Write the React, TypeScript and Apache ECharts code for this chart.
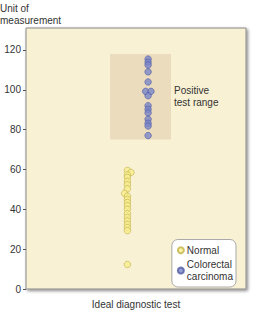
import React, { useEffect, useRef } from "react";
import * as echarts from "echarts";

const yTicks = [0, 20, 40, 60, 80, 100, 120];
const positiveRange = [75, 118];
const positiveRangeX = [38.2, 65.9];
// [x position (jitter), value]
const normalValues: [number, number][] = [
  [46.1, 59.5], [47.7, 58.5], [46.1, 57.3], [46.1, 56], [46.1, 54], [46.1, 52.3],
  [46.1, 50.3], [44.8, 48], [46.1, 46.6], [46.1, 45], [46.1, 43.4], [46.1, 41.8],
  [46.1, 40], [46.1, 37.8], [46.1, 36], [46.1, 34.2], [46.1, 32.4], [46.1, 30.8],
  [46.1, 29.3], [46.1, 12.3],
];
const carcinomaValues: [number, number][] = [
  [55.5, 115.4], [55.5, 113.8], [55.5, 112.4], [55.5, 109], [55.5, 103.9],
  [54.4, 99.2], [56.8, 99.2], [55.5, 97], [55.5, 92], [55.5, 90.2], [55.5, 88.4],
  [55.5, 85.2], [55.5, 83.2], [55.5, 81.8], [55.5, 77],
];

const FONT = "'Liberation Sans', Arial, sans-serif";

export default function App() {
  const ref = useRef<HTMLDivElement>(null);
  useEffect(() => {
    const chart = echarts.init(ref.current!, null, { renderer: "svg" });
    chart.setOption({
      animation: false,
      textStyle: { fontFamily: FONT },
      title: {
        text: "Unit of\nmeasurement",
        left: -5,
        top: -2,
        padding: 5,
        textStyle: { fontSize: 10, fontWeight: "normal", color: "#333", lineHeight: 11.5, fontFamily: FONT },
      },
      grid: {
        left: 26,
        right: 7,
        top: 28,
        bottom: 17,
        show: true,
        backgroundColor: "#f9f1d3",
        borderColor: "#8a8a8a",
        borderWidth: 1,
        shadowColor: "rgba(0,0,0,0.45)",
        shadowBlur: 3,
        shadowOffsetX: 1.5,
        shadowOffsetY: 1.5,
      },
      xAxis: {
        type: "value",
        min: 0,
        max: 100,
        name: "Ideal diagnostic test",
        nameLocation: "middle",
        nameGap: 10,
        nameTextStyle: { fontSize: 10, color: "#333", fontFamily: FONT },
        axisLine: { show: false },
        axisTick: { show: false },
        axisLabel: { show: false },
        splitLine: { show: false },
      },
      yAxis: {
        type: "value",
        min: 0,
        max: 131,
        axisLine: { show: false },
        axisTick: { show: true, length: 3, lineStyle: { color: "#555" }, customValues: yTicks },
        axisLabel: { fontSize: 10, color: "#333", margin: 5, customValues: yTicks, fontFamily: FONT },
        splitLine: { show: false },
      },
      legend: {
        orient: "vertical",
        right: 17,
        bottom: 27,
        backgroundColor: "#ffffff",
        borderColor: "#aaaaaa",
        borderWidth: 1,
        borderRadius: 6,
        padding: [5, 3, 5, 5],
        itemGap: 3,
        itemWidth: 6,
        itemHeight: 6,
        icon: "circle",
        textStyle: { fontSize: 10, color: "#333", lineHeight: 11.5, fontFamily: FONT, padding: [0, 0, 0, -2] },
        data: ["Normal", "Colorectal\ncarcinoma"],
      },
      series: [
        {
          name: "Normal",
          type: "scatter",
          symbolSize: 6.5,
          itemStyle: { color: "#f7ee8e", borderColor: "#c2b24a", borderWidth: 0.8 },
          data: normalValues,
          z: 3,
        },
        {
          name: "Colorectal\ncarcinoma",
          type: "scatter",
          symbolSize: 6.5,
          itemStyle: { color: "#7c87c8", borderColor: "#4f5aa3", borderWidth: 0.8 },
          data: carcinomaValues,
          z: 3,
          markArea: {
            silent: true,
            itemStyle: { color: "#ecdcbe" },
            label: {
              show: true,
              position: "right",
              distance: 3,
              fontSize: 10,
              color: "#333",
              lineHeight: 12,
              fontFamily: FONT,
            },
            data: [
              [
                { name: "Positive\ntest range", xAxis: positiveRangeX[0], yAxis: positiveRange[0] },
                { xAxis: positiveRangeX[1], yAxis: positiveRange[1] },
              ],
            ],
          },
        },
      ],
    });
    return () => chart.dispose();
  }, []);
  return <div ref={ref} style={{ width: 253, height: 314, position: "absolute", left: 0, top: 0 }} />;
}
